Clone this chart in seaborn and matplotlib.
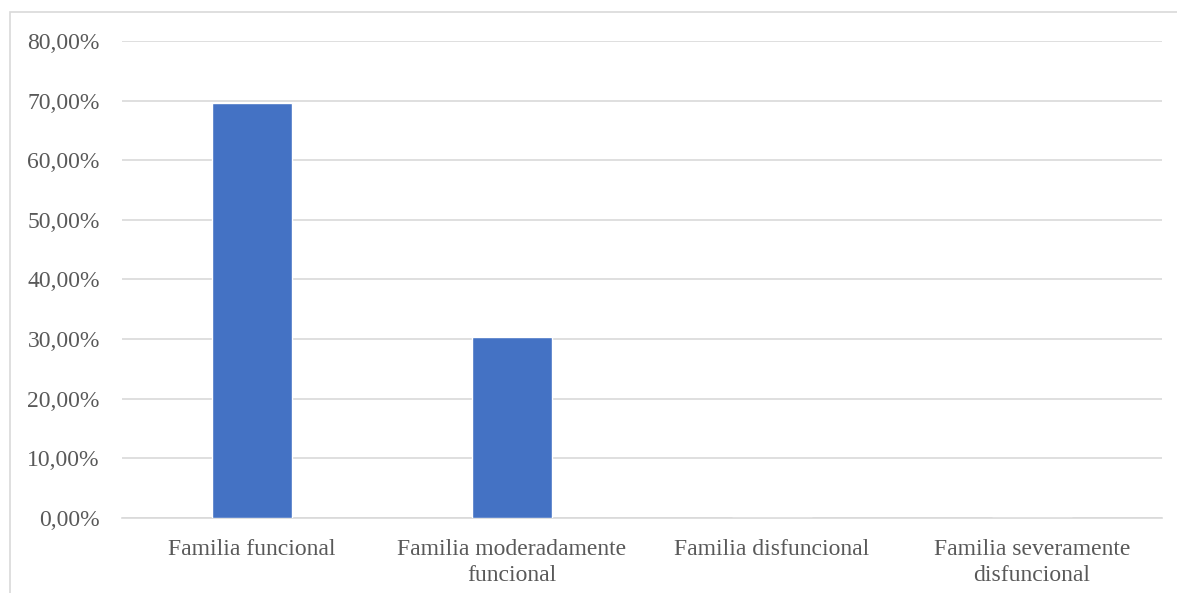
import matplotlib
matplotlib.use('Agg')
import matplotlib.pyplot as plt
import seaborn as sns
import pandas as pd
from matplotlib.patches import Rectangle
from matplotlib.ticker import FuncFormatter

categorias = ['Familia funcional', 'Familia moderadamente\nfuncional',
              'Familia disfuncional', 'Familia severamente\ndisfuncional']
porcentajes = [69.57, 30.43, 0.0, 0.0]

df = pd.DataFrame({'categoria': categorias, 'porcentaje': porcentajes})

sns.set_style('white')
plt.rcParams['font.family'] = ['Liberation Serif', 'DejaVu Serif']

fig = plt.figure(figsize=(11.77, 5.93), dpi=100)
ax = fig.add_axes([0.1037, 0.1265, 0.8836, 0.8044])

sns.barplot(data=df, x='categoria', y='porcentaje', color='#4472C4',
            width=0.31, saturation=1, ax=ax, zorder=3)

ax.set_ylim(0, 80)
ax.set_yticks(range(0, 81, 10))
ax.yaxis.set_major_formatter(FuncFormatter(lambda v, p: f'{v:.2f}%'.replace('.', ',')))
ax.grid(axis='y', color='#D9D9D9', linewidth=1.2, zorder=0)
ax.set_axisbelow(True)
for s in ['top', 'right', 'left']:
    ax.spines[s].set_visible(False)
ax.spines['bottom'].set_color('#D9D9D9')
ax.spines['bottom'].set_linewidth(1.2)
ax.set_xlabel('')
ax.set_ylabel('')
ax.tick_params(axis='both', length=0, labelsize=17, colors='#595959')
ax.tick_params(axis='y', pad=16)
ax.tick_params(axis='x', pad=15)
for t in ax.get_xticklabels():
    t.set_linespacing(1.3)

# outer chart border (only top and left visible in the crop)
fig.patches.append(Rectangle((10 / 1177, -0.1), 1.2, 1 - 12 / 593 + 0.1,
                             transform=fig.transFigure, fill=False,
                             edgecolor='#D9D9D9', linewidth=1.2))

fig.savefig('out.png', dpi=100, facecolor='white')
